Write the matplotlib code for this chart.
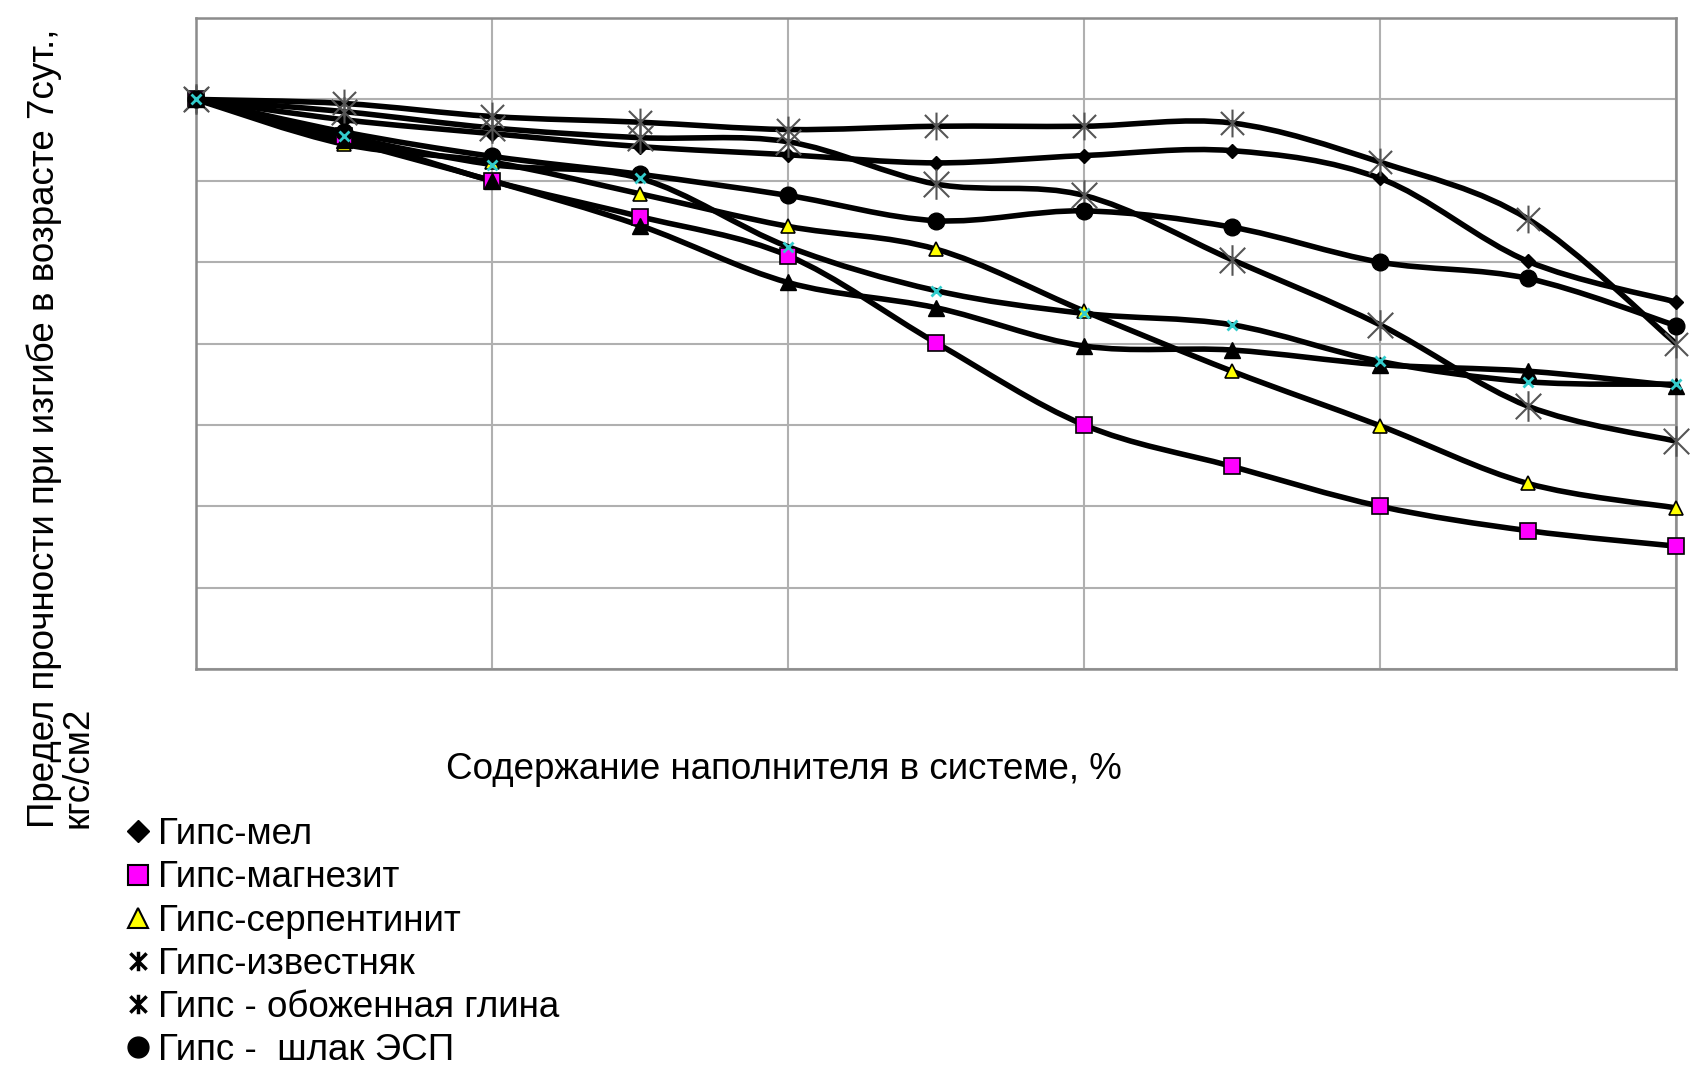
import numpy as np
import matplotlib
matplotlib.use("Agg")
import matplotlib.pyplot as plt
from matplotlib.path import Path
from matplotlib.patches import PathPatch
from matplotlib.lines import Line2D

plt.rcParams['font.family'] = ['Liberation Sans', 'DejaVu Sans']

# содержание наполнителя, %
filler = [0, 5, 10, 15, 20, 25, 30, 35, 40, 45, 50]

# предел прочности при изгибе, 7 сут.
mel = [70, 67.5, 65.8, 64.2, 63.2, 62.2, 63.1, 63.7, 60.3, 50.1, 45.1]
magnezit = [70, 65.5, 60, 55.6, 50.8, 40.1, 30, 24.9, 20, 17, 15.1]
serpentinit = [70, 64.5, 62.3, 58.4, 54.4, 51.6, 44, 36.6, 29.9, 22.8, 19.8]
izvestnyak = [70, 69.5, 67.9, 67.2, 66.3, 66.7, 66.7, 67.1, 62.3, 55.3, 40]
glina = [70, 68.5, 66.5, 65.3, 64.8, 59.6, 58.2, 50.3, 42.3, 32.3, 28]
shlak = [70, 66, 63, 60.8, 58.2, 55.1, 56.3, 54.3, 50, 48, 42.2]
tec = [70, 65, 60, 54.5, 47.5, 44.4, 39.7, 39.2, 37.4, 36.6, 34.8]
extra = [70, 65.5, 62, 60.3, 51.9, 46.5, 43.7, 42.3, 37.8, 35.3, 35]

labels = ['Гипс-мел', 'Гипс-магнезит', 'Гипс-серпентинит', 'Гипс-известняк',
          'Гипс - обоженная глина', 'Гипс -  шлак ЭСП',
          'Гипс - золошлаковая смесь ТЭЦ']

# звёздочка: косой крест + вертикаль
star = Path([(-1, -1), (1, 1), (-1, 1), (1, -1), (0, -1.2), (0, 1.2)],
            [Path.MOVETO, Path.LINETO, Path.MOVETO, Path.LINETO,
             Path.MOVETO, Path.LINETO])


def smooth_path(x, y):
    # сглаженная линия (кривые Безье через точки)
    pts = np.column_stack([x, y]).astype(float)
    n = len(pts)
    verts = [pts[0]]
    codes = [Path.MOVETO]
    for i in range(n - 1):
        p0 = pts[i - 1] if i > 0 else pts[i]
        p1 = pts[i]
        p2 = pts[i + 1]
        p3 = pts[i + 2] if i + 2 < n else pts[i + 1]
        verts += [p1 + (p2 - p0) / 6, p2 - (p3 - p1) / 6, p2]
        codes += [Path.CURVE4] * 3
    return Path(verts, codes)


series = [
    (mel, dict(marker='D', ms=7, mfc='black', mec='black')),
    (magnezit, dict(marker='s', ms=11, mfc='#ff00ff', mec='black', mew=1.2)),
    (serpentinit, dict(marker='^', ms=10, mfc='#ffff00', mec='black', mew=1.2)),
    (izvestnyak, dict(marker=star, ms=20, mfc='none', mec='#555555', mew=1.5)),
    (glina, dict(marker=star, ms=22, mfc='none', mec='#555555', mew=1.5)),
    (shlak, dict(marker='o', ms=12, mfc='black', mec='black')),
    (tec, dict(marker='^', ms=11, mfc='black', mec='black')),
    (extra, dict(marker='x', ms=7, mfc='none', mec='#33cccc', mew=2)),
]

fig = plt.figure(figsize=(16.98, 10.74), dpi=100)
ax = fig.add_axes([0.1154, 0.3771, 0.8716, 0.6061])
ax.set_xlim(0, 50)
ax.set_ylim(0, 80)
ax.set_xticks(range(0, 51, 10))
ax.set_yticks(range(0, 81, 10))
ax.tick_params(length=0, labelbottom=False, labelleft=False)
ax.grid(True, color='#b0b0b0', linewidth=1.5)
ax.set_axisbelow(True)
for s in ax.spines.values():
    s.set_color('#8c8c8c')
    s.set_linewidth(1.8)

for i, (vals, st) in enumerate(series):
    ax.add_patch(PathPatch(smooth_path(filler, vals), fill=False, color='black',
                           linewidth=4, capstyle='round', joinstyle='round',
                           zorder=3 + i * 0.1))
    ax.plot(filler, vals, linestyle='none', clip_on=False, zorder=4 + i * 0.1, **st)

ax.set_xlabel('Содержание наполнителя в системе, %', fontsize=26.5)
ax.xaxis.set_label_coords(0.397, -0.128)
ax.set_ylabel('Предел прочности при изгибе в возрасте 7сут.,\nкгс/см2',
              fontsize=26.5, ha='left', va='center', multialignment='left',
              linespacing=0.95)
ax.yaxis.set_label_coords(-0.091, -0.244)

handles = [
    Line2D([], [], linestyle='none', marker='D', ms=11, mfc='black', mec='black'),
    Line2D([], [], linestyle='none', marker='s', ms=15, mfc='#ff00ff', mec='black', mew=1.5),
    Line2D([], [], linestyle='none', marker='^', ms=14, mfc='#ffff00', mec='black', mew=1.5),
    Line2D([], [], linestyle='none', marker=star, ms=14, mfc='none', mec='black', mew=2.5),
    Line2D([], [], linestyle='none', marker=star, ms=14, mfc='none', mec='black', mew=2.5),
    Line2D([], [], linestyle='none', marker='o', ms=15, mfc='black', mec='black'),
    Line2D([], [], linestyle='none', marker='^', ms=14, mfc='black', mec='black'),
]
fig.legend(handles, labels, loc='upper left', bbox_to_anchor=(0.0736, 0.239),
           frameon=False, fontsize=26.5, handlelength=0.7, handletextpad=0.2,
           labelspacing=0.22, borderpad=0, borderaxespad=0)

fig.savefig('out.png', dpi=100)
